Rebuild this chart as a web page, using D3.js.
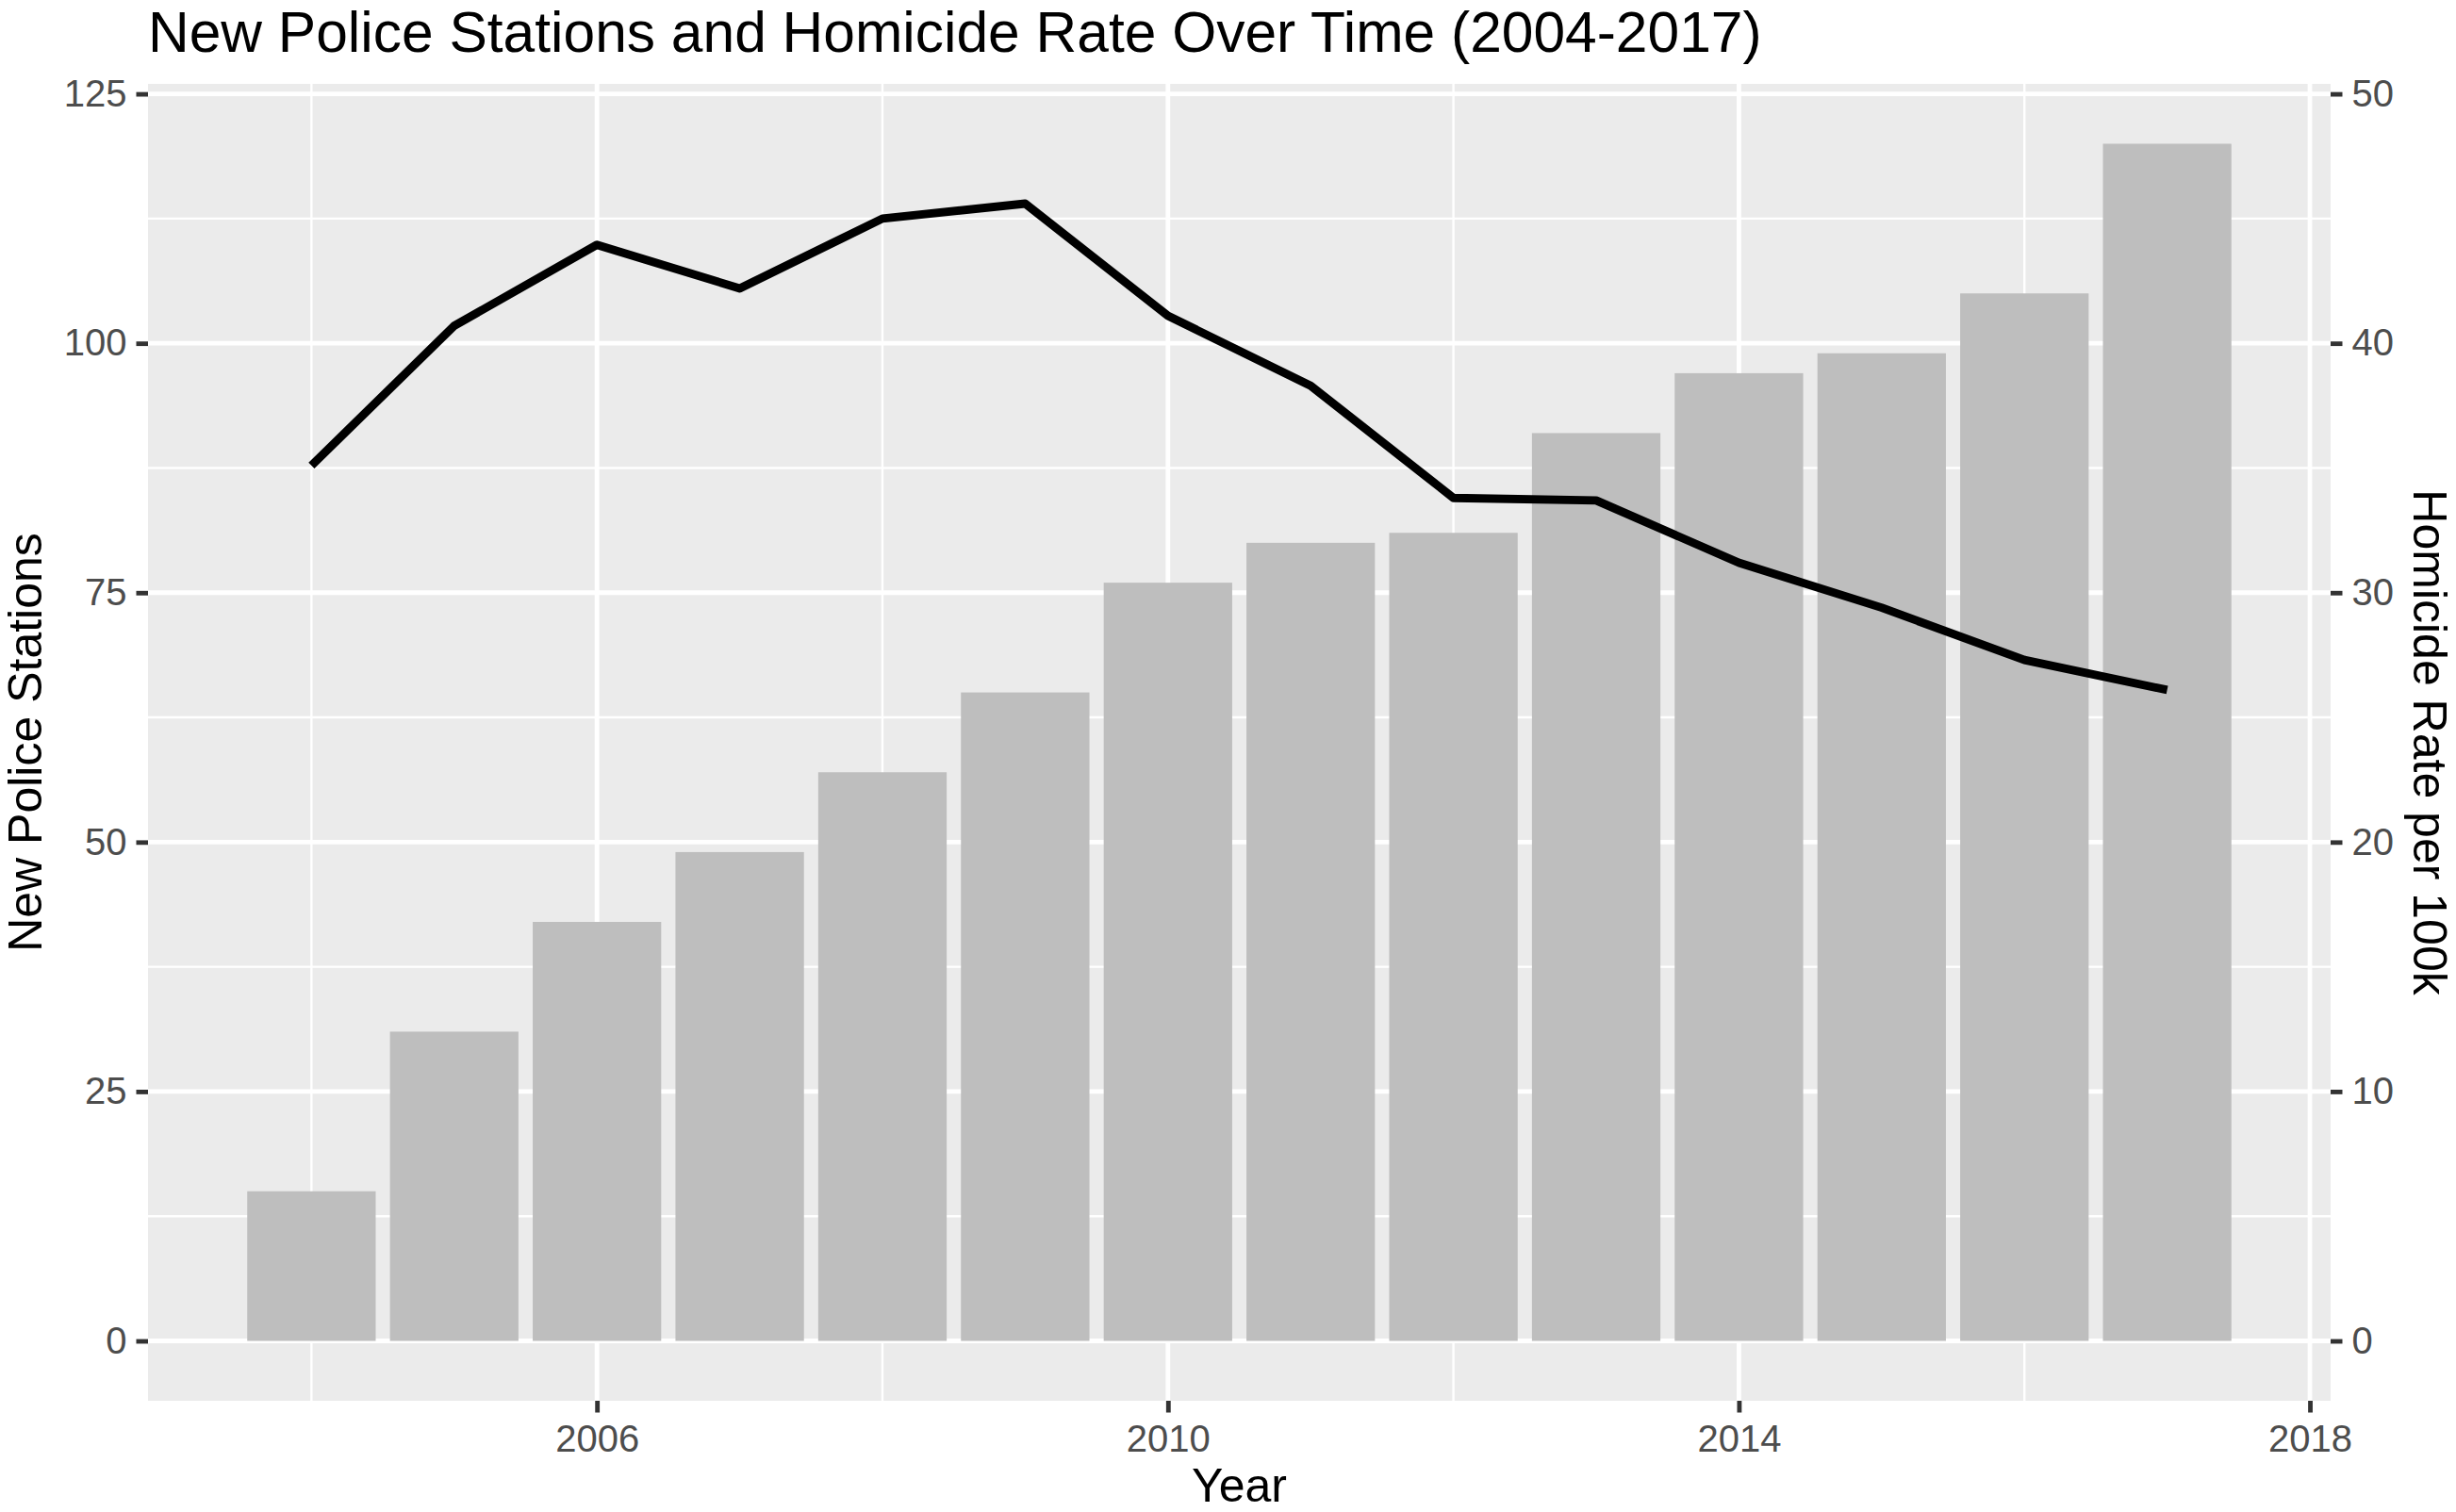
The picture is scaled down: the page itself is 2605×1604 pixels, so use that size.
<!DOCTYPE html>
<html>
<head>
<meta charset="utf-8">
<script src="https://cdn.jsdelivr.net/npm/d3@7"></script>
<style>
  html, body { margin: 0; padding: 0; background: #ffffff; }
  svg { display: block; }
  text { font-family: "Liberation Sans", Arial, Helvetica, sans-serif; }
</style>
</head>
<body>
<svg id="chart" width="2605" height="1604"></svg>
<script>
// ---- data ----
const years = [2004, 2005, 2006, 2007, 2008, 2009, 2010, 2011, 2012, 2013, 2014, 2015, 2016, 2017];
const stations = [15, 31, 42, 49, 57, 65, 76, 80, 81, 91, 97, 99, 105, 120];
const homicideRate = [35.1, 40.7, 43.95, 42.2, 45.0, 45.6, 41.1, 38.3, 33.8, 33.7, 31.2, 29.4, 27.3, 26.1];
const xTicks = [2006, 2010, 2014, 2018];
const xMinorTicks = [2004, 2008, 2012, 2016];
const leftTicks = [0, 25, 50, 75, 100, 125];
const leftMinorTicks = [12.5, 37.5, 62.5, 87.5, 112.5];
const rightTicks = [0, 10, 20, 30, 40, 50];
const rateFactor = 2.5; // secondary axis: stations = rate * 2.5

const titleText = "New Police Stations and Homicide Rate Over Time (2004-2017)";
const xTitle = "Year";
const yLeftTitle = "New Police Stations";
const yRightTitle = "Homicide Rate per 100k";

// ---- layout ----
const W = 2605, H = 1604;
const panel = { left: 157, right: 2472, top: 89, bottom: 1486 };
const tickLen = 12.5;
const majorW = 4.85, minorW = 2.4;

const svg = d3.select("#chart");

const barWidthYears = 0.9;
const xMinData = years[0] - barWidthYears / 2, xMaxData = years[years.length - 1] + barWidthYears / 2;
const xPad = (xMaxData - xMinData) * 0.05;
const x = d3.scaleLinear().domain([xMinData - xPad, xMaxData + xPad]).range([panel.left, panel.right]);

const yMax = 120, yPad = yMax * 0.05;
const yL = d3.scaleLinear().domain([-yPad, yMax + yPad]).range([panel.bottom, panel.top]);
const yR = d3.scaleLinear().domain([-yPad / rateFactor, (yMax + yPad) / rateFactor]).range([panel.bottom, panel.top]);

// panel background
svg.append("rect")
  .attr("x", panel.left).attr("y", panel.top)
  .attr("width", panel.right - panel.left).attr("height", panel.bottom - panel.top)
  .attr("fill", "#EBEBEB");

const grid = svg.append("g");
// minor grid
grid.selectAll("line.hminor").data(leftMinorTicks).join("line")
  .attr("x1", panel.left).attr("x2", panel.right)
  .attr("y1", d => yL(d)).attr("y2", d => yL(d))
  .attr("stroke", "#fff").attr("stroke-width", minorW);
grid.selectAll("line.vminor").data(xMinorTicks).join("line")
  .attr("y1", panel.top).attr("y2", panel.bottom)
  .attr("x1", d => x(d)).attr("x2", d => x(d))
  .attr("stroke", "#fff").attr("stroke-width", minorW);
// major grid
grid.selectAll("line.hmajor").data(leftTicks).join("line")
  .attr("x1", panel.left).attr("x2", panel.right)
  .attr("y1", d => yL(d)).attr("y2", d => yL(d))
  .attr("stroke", "#fff").attr("stroke-width", majorW);
grid.selectAll("line.vmajor").data(xTicks).join("line")
  .attr("y1", panel.top).attr("y2", panel.bottom)
  .attr("x1", d => x(d)).attr("x2", d => x(d))
  .attr("stroke", "#fff").attr("stroke-width", majorW);

// bars
const bw = x(barWidthYears) - x(0);
svg.append("g").selectAll("rect").data(years).join("rect")
  .attr("x", (d, i) => x(d) - bw / 2)
  .attr("width", bw)
  .attr("y", (d, i) => yL(stations[i]))
  .attr("height", (d, i) => yL(0) - yL(stations[i]))
  .attr("fill", "#BEBEBE");

// line
const line = d3.line().x(d => x(d[0])).y(d => yR(d[1]));
svg.append("path")
  .datum(years.map((y, i) => [y, homicideRate[i]]))
  .attr("d", line)
  .attr("fill", "none")
  .attr("stroke", "#000")
  .attr("stroke-width", 8.9)
  .attr("stroke-linejoin", "round")
  .attr("stroke-linecap", "butt");

// axes
function styleAxis(g) {
  g.select(".domain").remove();
  g.selectAll(".tick line").attr("stroke", "#333333").attr("stroke-width", majorW);
  g.selectAll(".tick text")
    .attr("fill", "#4D4D4D")
    .style("font-size", "40px")
    .style("font-family", "'Liberation Sans', Arial, Helvetica, sans-serif");
}

svg.append("g")
  .attr("transform", `translate(${panel.left},0)`)
  .call(d3.axisLeft(yL).tickValues(leftTicks).tickSize(tickLen).tickPadding(10).tickFormat(d3.format("d")))
  .call(styleAxis);

svg.append("g")
  .attr("transform", `translate(${panel.right},0)`)
  .call(d3.axisRight(yR).tickValues(rightTicks).tickSize(tickLen).tickPadding(10).tickFormat(d3.format("d")))
  .call(styleAxis);

svg.append("g")
  .attr("transform", `translate(0,${panel.bottom})`)
  .call(d3.axisBottom(x).tickValues(xTicks).tickSize(tickLen).tickPadding(13).tickFormat(d3.format("d")))
  .call(styleAxis);

// titles
svg.append("text")
  .attr("x", panel.left).attr("y", 55)
  .attr("fill", "#000")
  .style("font-size", "60.5px")
  .text(titleText);

svg.append("text")
  .attr("x", (panel.left + panel.right) / 2).attr("y", 1593)
  .attr("text-anchor", "middle")
  .attr("fill", "#000")
  .style("font-size", "50px")
  .text(xTitle);

const yMid = (panel.top + panel.bottom) / 2;
svg.append("text")
  .attr("transform", `translate(44,${yMid}) rotate(-90)`)
  .attr("text-anchor", "middle")
  .attr("fill", "#000")
  .style("font-size", "50px")
  .text(yLeftTitle);

svg.append("text")
  .attr("transform", `translate(2560,${yMid}) rotate(90)`)
  .attr("text-anchor", "middle")
  .attr("fill", "#000")
  .style("font-size", "50px")
  .text(yRightTitle);
</script>
</body>
</html>
